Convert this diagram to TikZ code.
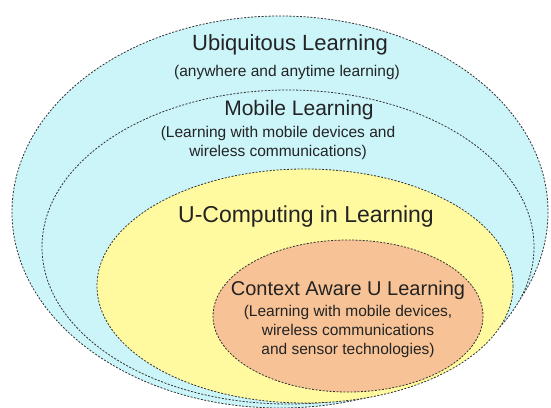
\documentclass[tikz,border=0pt]{standalone}
\usepackage{fontspec}
\setmainfont{Liberation Sans}
\definecolor{cyanfill}{RGB}{204,245,250}
\definecolor{yellowfill}{RGB}{255,250,160}
\definecolor{orangefill}{RGB}{247,195,150}
\definecolor{txt}{RGB}{35,35,35}
\definecolor{edge}{RGB}{50,50,50}
\begin{document}
\begin{tikzpicture}[x=1pt,y=-1pt,
  ring/.style={draw=edge, line width=0.8pt, dash pattern=on 2pt off 1.5pt},
  title/.style={text=txt, inner sep=0pt},
  sub/.style={font=\fontsize{15.5}{19.5}\selectfont, text=txt, align=center, inner sep=0pt}]
\useasboundingbox (0,0) rectangle (551,407);
\fill[white] (0,0) rectangle (551,407);
\begin{scope}
\clip (0,0) rectangle (551,407);
\draw[ring, fill=cyanfill] (280,212) ellipse [x radius=268, y radius=196];
\draw[ring, fill=cyanfill] (288,247) ellipse [x radius=246, y radius=157];
\draw[ring, fill=yellowfill] (305,286) ellipse [x radius=208, y radius=117];
\draw[ring, fill=orangefill] (348,316) ellipse [x radius=135, y radius=76];
\end{scope}
\node[title, font=\fontsize{22}{24}\selectfont] (ubi) at (290,45) {Ubiquitous Learning};
\node[sub] (ubisub) at (287,72) {(anywhere and anytime learning)};
\node[title, font=\fontsize{21}{24}\selectfont] (mob) at (299,110) {Mobile Learning};
\node[sub] (mobsub) at (278,143) {(Learning with mobile devices and\\wireless communications)};
\node[title, font=\fontsize{23}{26}\selectfont] (ucomp) at (306,217) {U-Computing in Learning};
\node[title, font=\fontsize{20}{23}\selectfont] (ctx) at (348,290) {Context Aware U Learning};
\node[sub, font=\fontsize{15.5}{19}\selectfont] (ctxsub) at (348,331) {(Learning with mobile devices,\\wireless communications\\and sensor technologies)};
\end{tikzpicture}
\end{document}
